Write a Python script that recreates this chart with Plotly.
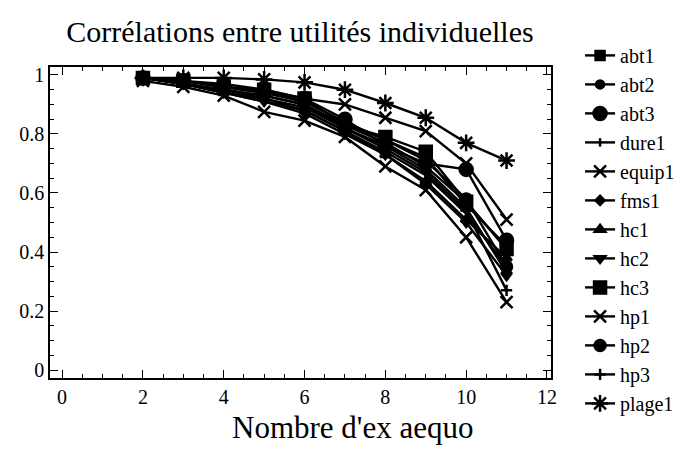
import plotly.graph_objects as go

x_vals = [2, 3, 4, 5, 6, 7, 8, 9, 10, 11]

series_names = ["abt1", "abt2", "abt3", "dure1", "equip1", "fms1", "hc1",
                "hc2", "hc3", "hp1", "hp2", "hp3", "plage1"]

abt1 = [0.99, 0.98, 0.96, 0.94, 0.91, 0.84, 0.78, 0.72, 0.56, 0.42]
abt2 = [0.99, 0.97, 0.95, 0.93, 0.90, 0.83, 0.77, 0.69, 0.57, 0.41]
abt3 = [0.99, 0.98, 0.96, 0.94, 0.92, 0.85, 0.76, 0.70, 0.68, 0.44]
dure1 = [0.99, 0.97, 0.94, 0.91, 0.88, 0.81, 0.74, 0.66, 0.53, 0.35]
equip1 = [0.99, 0.98, 0.97, 0.95, 0.92, 0.90, 0.855, 0.81, 0.70, 0.51]
fms1 = [0.99, 0.97, 0.95, 0.93, 0.90, 0.82, 0.76, 0.68, 0.55, 0.33]
hc1 = [0.99, 0.97, 0.94, 0.92, 0.88, 0.81, 0.73, 0.64, 0.51, 0.38]
hc2 = [0.99, 0.97, 0.94, 0.91, 0.87, 0.80, 0.73, 0.63, 0.50, 0.32]
hc3 = [0.99, 0.98, 0.96, 0.95, 0.92, 0.83, 0.79, 0.74, 0.57, 0.41]
hp1 = [0.98, 0.96, 0.93, 0.875, 0.845, 0.79, 0.69, 0.61, 0.45, 0.23]
hp2 = [0.99, 0.98, 0.96, 0.94, 0.91, 0.84, 0.78, 0.71, 0.58, 0.35]
hp3 = [0.99, 0.97, 0.95, 0.92, 0.89, 0.82, 0.75, 0.67, 0.54, 0.27]
plage1 = [0.99, 0.99, 0.99, 0.985, 0.975, 0.95, 0.905, 0.855, 0.77, 0.71]

all_series = [abt1, abt2, abt3, dure1, equip1, fms1, hc1, hc2, hc3, hp1, hp2, hp3, plage1]

# marker style per series (symbol, size)
markers = {
    "abt1": ("square", 9),
    "abt2": ("circle", 8),
    "abt3": ("circle", 13),
    "dure1": ("line-ns-open", 6),
    "equip1": ("x-thin-open", 12),
    "fms1": ("diamond", 7),
    "hc1": ("triangle-up", 9),
    "hc2": ("triangle-down", 9),
    "hc3": ("square", 12),
    "hp1": ("x-thin-open", 12),
    "hp2": ("circle", 11),
    "hp3": ("cross-thin-open", 8),
    "plage1": ("asterisk-open", 14),
}

serif = "Liberation Serif, Times New Roman, serif"

fig = go.Figure()
for name, vals in zip(series_names, all_series):
    sym, size = markers[name]
    fig.add_trace(go.Scatter(
        x=x_vals, y=vals, name=name, mode="lines+markers",
        line=dict(color="black", width=2.4),
        marker=dict(symbol=sym, size=size, color="black",
                    line=dict(color="black", width=2.5)),
    ))

fig.update_layout(
    width=688, height=456,
    margin=dict(l=50, r=137, t=67, b=78, autoexpand=False),
    paper_bgcolor="white", plot_bgcolor="white",
    font=dict(family=serif, color="black", size=20),
    title=dict(text="Corrélations entre utilités individuelles",
               x=0.436, xanchor="center", y=0.93, yanchor="middle",
               font=dict(size=30)),
    legend=dict(x=1.058, y=1.10, xanchor="left", yanchor="top",
                font=dict(size=20), itemwidth=30, tracegroupgap=0,
                maxheight=440, bgcolor="rgba(0,0,0,0)"),
    annotations=[dict(text="Nombre d'ex aequo", xref="paper", yref="paper",
                      x=(352 - 50) / 501, y=-0.16, xanchor="center",
                      yanchor="middle", showarrow=False, font=dict(size=31))],
)
fig.update_xaxes(
    range=[-0.3, 12.1], tickvals=[0, 2, 4, 6, 8, 10, 12],
    ticks="inside", ticklen=8, tickcolor="black", showline=True,
    linecolor="black", linewidth=1.5, mirror="ticks", showgrid=False,
    zeroline=False, automargin=False,
    minor=dict(dtick=0.5, ticks="inside", ticklen=4, tickcolor="black", showgrid=False),
)
fig.update_yaxes(
    range=[-0.027, 1.027], tickvals=[0, 0.2, 0.4, 0.6, 0.8, 1],
    ticktext=["0", "0.2", "0.4", "0.6", "0.8", "1"],
    ticks="inside", ticklen=8, tickcolor="black", showline=True,
    linecolor="black", linewidth=1.5, mirror="ticks", showgrid=False,
    zeroline=False, automargin=False,
    minor=dict(dtick=0.05, ticks="inside", ticklen=4, tickcolor="black", showgrid=False),
)

fig.write_html("out.html", config={"displayModeBar": False},
               post_script="document.body.style.margin='0';")
